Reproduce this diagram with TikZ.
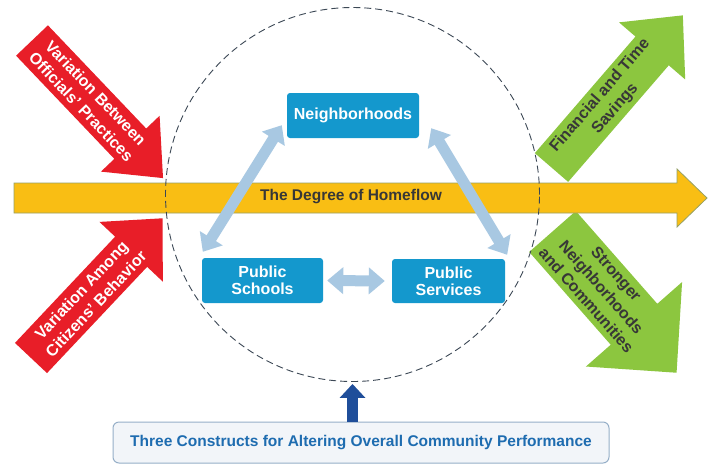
\documentclass[tikz,border=0pt]{standalone}
\usepackage{fontspec}
\setmainfont{Liberation Sans}
\usetikzlibrary{arrows.meta}
\definecolor{redA}{RGB}{232,30,40}
\definecolor{greenA}{RGB}{140,198,63}
\definecolor{yellowA}{RGB}{249,190,20}
\definecolor{yellowEdge}{RGB}{150,160,100}
\definecolor{boxblue}{RGB}{20,152,205}
\definecolor{lightblue}{RGB}{168,200,226}
\definecolor{navyA}{RGB}{31,78,154}
\definecolor{textblue}{RGB}{30,108,176}
\definecolor{darktext}{RGB}{55,55,55}
\definecolor{panelfill}{RGB}{242,245,249}
\definecolor{paneledge}{RGB}{150,175,200}
\definecolor{ringcol}{RGB}{60,72,85}
\newcommand{\BlockArrow}[7]{% style, tail, angle, L, b, w, hl
  \begin{scope}[shift={#2}, rotate=#3]
    \fill[#1] (0,#5) -- ({#4-#7},#5) -- ({#4-#7},#6) -- (#4,0)
      -- ({#4-#7},-#6) -- ({#4-#7},-#5) -- (0,-#5) -- cycle;
  \end{scope}}
\tikzset{
  boxtext/.style={font=\bfseries\fontsize{15.5}{16.5}\selectfont},
  bluebox/.style={font=\bfseries\fontsize{16}{17}\selectfont, fill=boxblue,
    text=white, rounded corners=3pt, inner sep=0pt, align=center},
  arrowtext/.style={font=\bfseries\fontsize{16}{20}\selectfont, align=center,
    inner sep=0pt, transform shape},
  lbarrow/.style={draw=lightblue, line width=11pt,
    {Triangle[width=26pt,length=16pt]}-{Triangle[width=26pt,length=16pt]}},
}
\begin{document}
\begin{tikzpicture}[x=1pt,y=-1pt]
\useasboundingbox (0,0) rectangle (712,464);
\fill[white] (0,0) rectangle (712,464);
% red arrows
\BlockArrow{redA}{(32,40.5)}{-46.4}{190}{22}{40.5}{47.5}
\begin{scope}[shift={(32,40.5)}, rotate=-46.4]
  \node[arrowtext, text=white] (r1) at (82,0) {Variation Between\\Officials' Practices};
\end{scope}
\BlockArrow{redA}{(31,358)}{46.7}{192}{22}{43.5}{46}
\begin{scope}[shift={(31,358)}, rotate=46.7]
  \node[arrowtext, text=white] (r2) at (84,0) {Variation Among\\Citizens' Behavior};
\end{scope}
% green arrows
\BlockArrow{greenA}{(551.5,167.5)}{49.2}{201}{22}{43.7}{47}
\begin{scope}[shift={(551.5,167.5)}, rotate=49.2]
  \node[arrowtext, text=darktext] (g1) at (86,0) {Financial and Time\\Savings};
\end{scope}
\BlockArrow{greenA}{(552.5,231.5)}{-48.7}{188}{31}{64}{64.5}
\begin{scope}[shift={(552.5,231.5)}, rotate=-48.7]
  \node[arrowtext, text=darktext] (g2) at (74,0) {Stronger\\Neighborhoods\\and Communities};
\end{scope}
% yellow arrow
\filldraw[fill=yellowA, draw=yellowEdge, line width=0.8pt]
  (14,183) -- (677,183) -- (677,169) -- (707,198) -- (677,227) -- (677,213) -- (14,213) -- cycle;
\node[boxtext, text=darktext] (hf) at (351,197) {The Degree of Homeflow};
% boxes
\node[bluebox, minimum width=132pt, minimum height=45pt] (nb) at (353,115.5) {Neighborhoods};
\node[bluebox, minimum width=121pt, minimum height=45pt] (ps) at (262.5,280.5) {Public\\Schools};
\node[bluebox, minimum width=113pt, minimum height=44pt] (sv) at (448.5,281) {Public\\Services};
% light blue arrows
\draw[lbarrow] ([shift={(1,-6)}]ps.north west) -- ([shift={(-5,-13)}]nb.south west);
\draw[lbarrow] ([shift={(12,-10)}]nb.south east) -- ([shift={(2,-4)}]sv.north east);
\draw[lbarrow] ([shift={(4,0)}]ps.east) -- ([shift={(-7,0)}]sv.west);
% dashed ring
\node[circle, draw=ringcol, line width=0.9pt, dash pattern=on 7pt off 4pt,
  minimum size=374pt, inner sep=0pt] (ring) at (352.5,194.5) {};
% bottom panel
\node[boxtext, text=textblue, fill=panelfill, draw=paneledge, line width=1pt,
  rounded corners=6pt, minimum width=496pt, minimum height=41pt, inner sep=0pt]
  (bt) at (361,442.5) {Three Constructs for Altering Overall Community Performance};
\draw[navyA, line width=11pt, -{Triangle[width=25pt,length=14pt]}]
  ([xshift=-8.5pt]bt.north) -- ([yshift=-2pt]ring.south);
\end{tikzpicture}
\end{document}
